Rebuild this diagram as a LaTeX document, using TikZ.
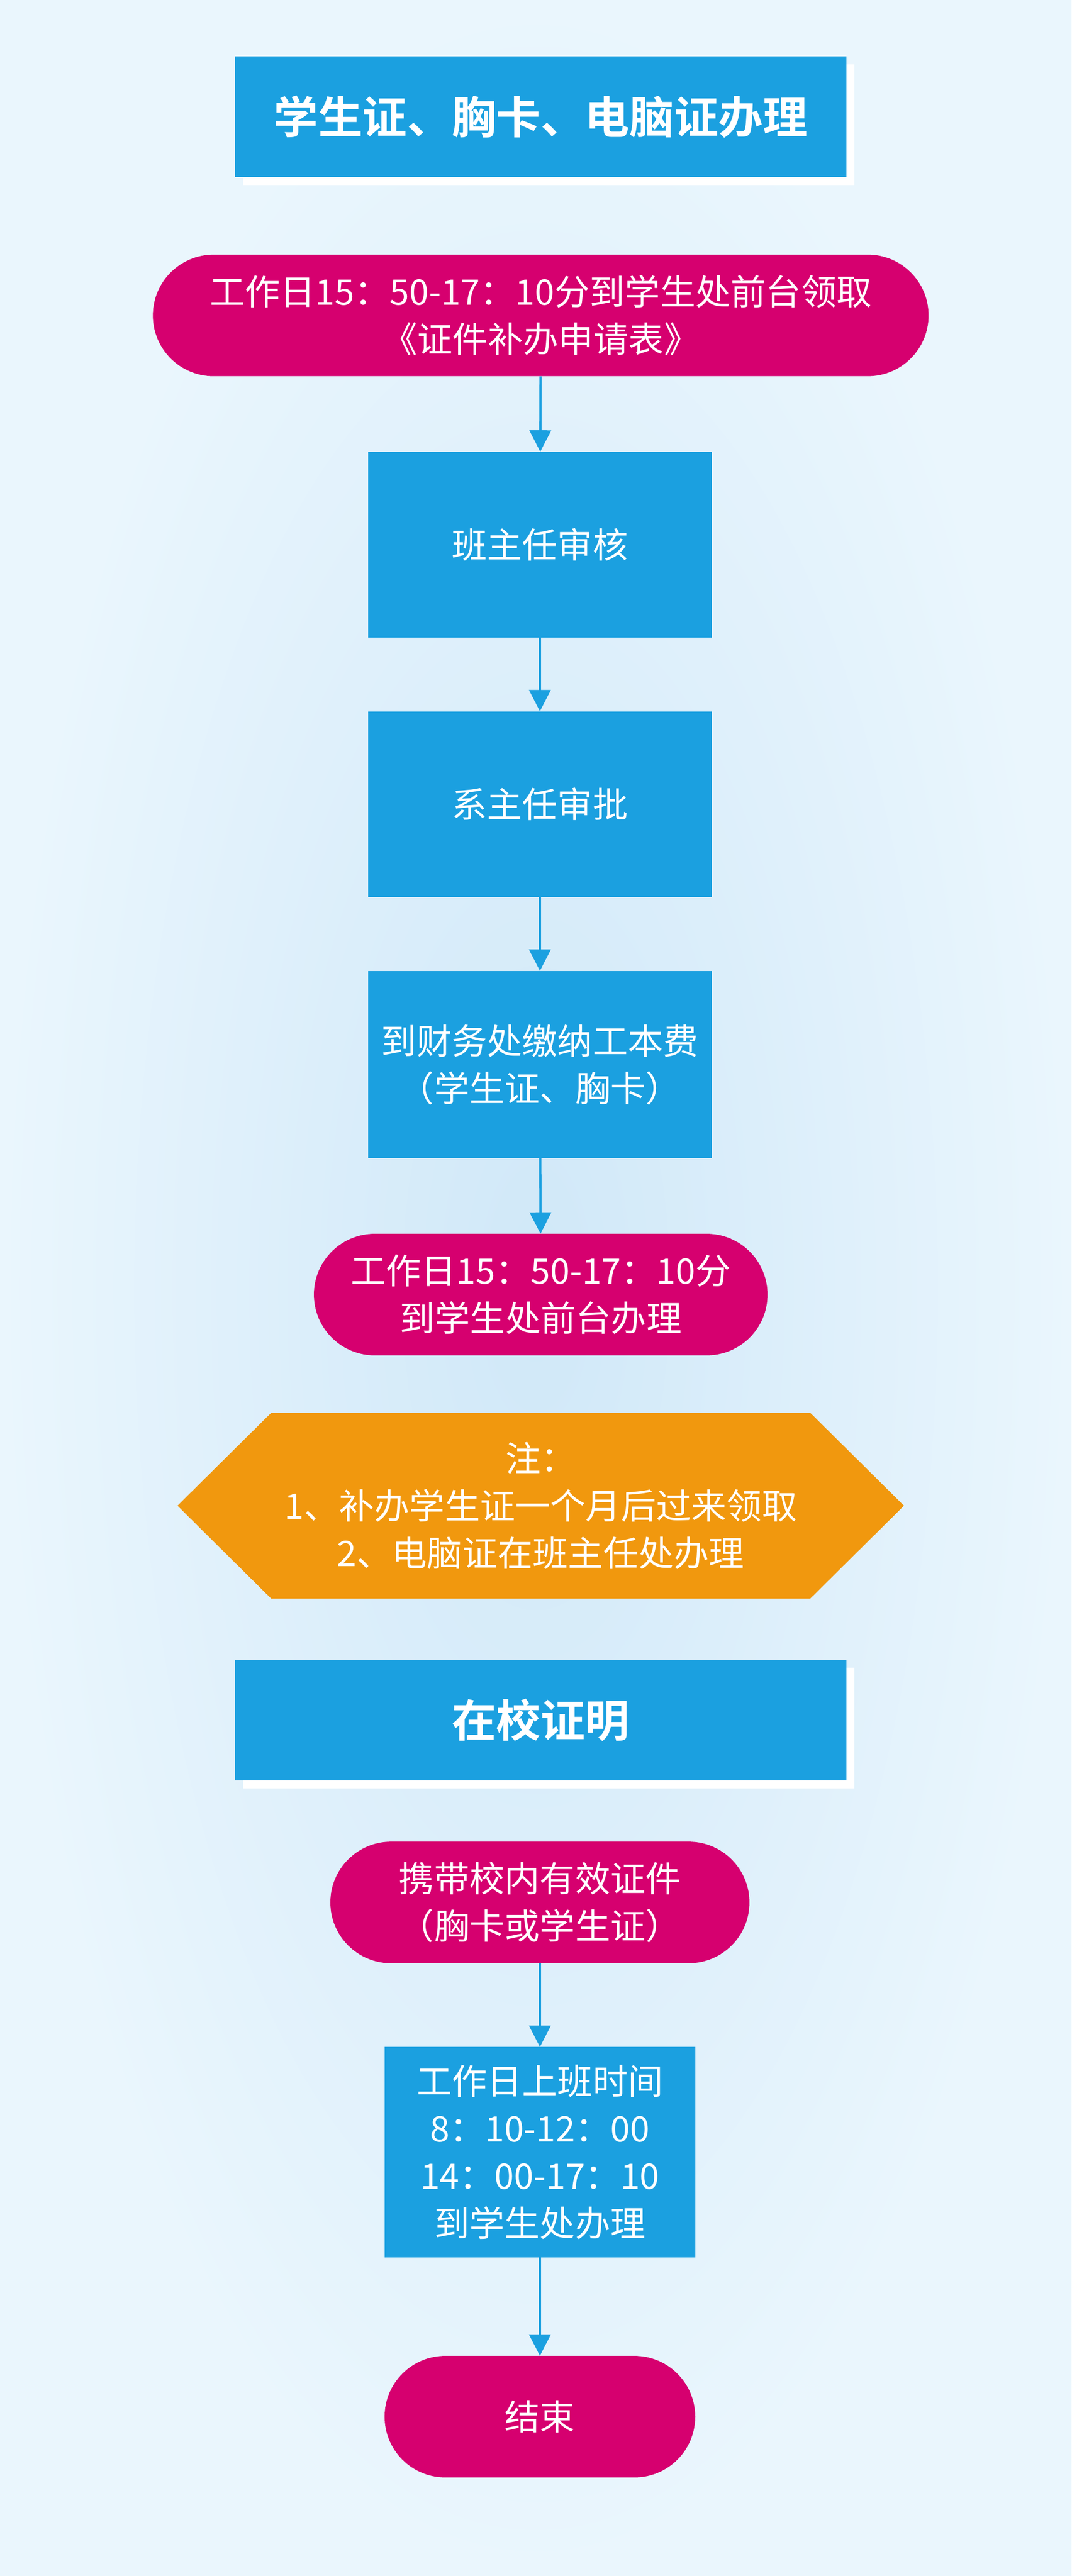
\documentclass[tikz,border=0pt]{standalone}
\usepackage{fontspec}
\setmainfont{Noto Sans CJK SC}
\newfontfamily\headfont{Noto Sans CJK SC Bold}
\usetikzlibrary{shadows,arrows.meta}
\definecolor{flowblue}{RGB}{27,160,224}
\definecolor{flowpink}{RGB}{214,0,111}
\definecolor{floworange}{RGB}{241,152,14}
\definecolor{bginner}{RGB}{208,232,248}
\definecolor{bgouter}{RGB}{234,246,253}
\tikzset{
  stepbox/.style={rectangle,fill=flowblue,text=white,align=center,
    font=\fontsize{61}{82}\selectfont,inner sep=0pt},
  pillbox/.style={rectangle,rounded corners=3.7cm,fill=flowpink,text=white,
    align=center,font=\fontsize{61}{82}\selectfont,inner sep=0pt,minimum height=7.4cm},
  headbox/.style={rectangle,fill=flowblue,text=white,inner sep=0pt,
    minimum width=37.2cm,minimum height=7.35cm,font=\headfont\fontsize{77}{90}\selectfont,
    drop shadow={shadow xshift=0.5cm,shadow yshift=-0.5cm,fill=white,opacity=1}},
  flowarrow/.style={draw=flowblue,line width=4pt,-{Triangle[length=1.3cm,width=1.3cm]}}
}
\begin{document}
\begin{tikzpicture}[x=0.1cm,y=-0.1cm]
\shade[inner color=bginner,outer color=bgouter] (0,0) rectangle (652,1568);
\useasboundingbox (0,0) rectangle (652,1568);
% first part
\node[headbox] (head1) at (329,71) {学生证、胸卡、电脑证办理};
\node[pillbox,minimum width=47.2cm] (fetch) at (329,192) {工作日15：50-17：10分到学生处前台领取\\《证件补办申请表》};
\node[stepbox,minimum width=20.9cm,minimum height=11.3cm] (check) at (328.5,331.5) {班主任审核};
\node[stepbox,minimum width=20.9cm,minimum height=11.3cm] (approve) at (328.5,489.5) {系主任审批};
\node[stepbox,minimum width=20.9cm,minimum height=11.4cm] (pay) at (328.5,648) {到财务处缴纳工本费\\（学生证、胸卡）};
\node[pillbox,minimum width=27.6cm] (handle) at (329,788) {工作日15：50-17：10分\\到学生处前台办理};
\fill[floworange] (108,916.5) -- (165,860) -- (493,860) -- (550,916.5) -- (493,973) -- (165,973) -- cycle;
\node[text=white,align=center,font=\fontsize{61}{82}\selectfont] (note) at (329,916.5) {注：\\1、补办学生证一个月后过来领取\\2、电脑证在班主任处办理};
\draw[flowarrow] (fetch) -- (check);
\draw[flowarrow] (check) -- (approve);
\draw[flowarrow] (approve) -- (pay);
\draw[flowarrow] (pay) -- (handle);
% second part
\node[headbox] (head2) at (329,1047) {在校证明};
\node[pillbox,minimum width=25.5cm] (carry) at (328.5,1158) {携带校内有效证件\\（胸卡或学生证）};
\node[stepbox,minimum width=18.9cm,minimum height=12.8cm] (hours) at (328.5,1310) {工作日上班时间\\8：10-12：00\\14：00-17：10\\到学生处办理};
\node[pillbox,minimum width=18.9cm] (finish) at (328.5,1471) {结束};
\draw[flowarrow] (carry) -- (hours);
\draw[flowarrow] (hours) -- (finish);
\end{tikzpicture}
\end{document}
